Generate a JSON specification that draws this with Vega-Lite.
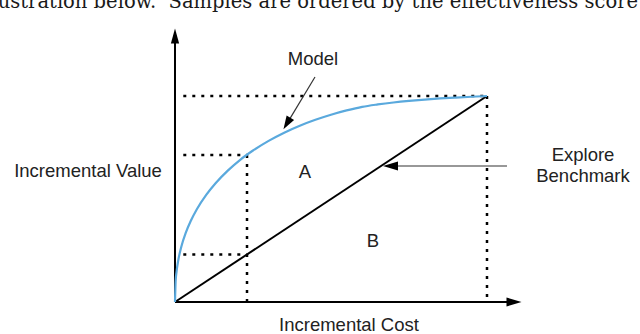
{
  "$schema": "https://vega.github.io/schema/vega-lite/v6.json",
  "width": 640,
  "height": 334,
  "padding": 0,
  "autosize": {"type": "none"},
  "background": "white",
  "config": {"view": {"stroke": null}},
  "datasets": {
    "model": [
      {"x": 0, "y": 0}, {"x": 0.2, "y": 9.98}, {"x": 0.5, "y": 14.77}, {"x": 1, "y": 19.87},
      {"x": 2, "y": 26.67}, {"x": 3.5, "y": 33.76}, {"x": 5, "y": 39.17}, {"x": 7, "y": 45.0},
      {"x": 10, "y": 51.97}, {"x": 13, "y": 57.64}, {"x": 17, "y": 63.89}, {"x": 21, "y": 69.16},
      {"x": 25, "y": 73.53}, {"x": 30, "y": 78.23}, {"x": 35, "y": 82.21}, {"x": 40, "y": 85.59},
      {"x": 45, "y": 88.47}, {"x": 50, "y": 90.92}, {"x": 55, "y": 93.0}, {"x": 60, "y": 94.74},
      {"x": 65, "y": 95.9}, {"x": 70, "y": 96.85}, {"x": 75, "y": 97.62}, {"x": 80, "y": 98.26},
      {"x": 85, "y": 98.81}, {"x": 90, "y": 99.25}, {"x": 95, "y": 99.64}, {"x": 100, "y": 100}
    ],
    "benchmark": [{"x": 0, "y": 0}, {"x": 100, "y": 100}],
    "guides": [
      {"x": 2.66, "y": 100, "x2": 100, "y2": 100},
      {"x": 2.66, "y": 71.36, "x2": 23.08, "y2": 71.36},
      {"x": 2.66, "y": 23.08, "x2": 23.08, "y2": 23.08},
      {"x": 23.08, "y": 71.36, "x2": 23.08, "y2": -2.3},
      {"x": 100, "y": 100, "x2": 100, "y2": 0}
    ],
    "axes": [
      {"x": 0, "y": 0, "x2": 0, "y2": 129.13},
      {"x": 0, "y": 0, "x2": 108.65, "y2": 0}
    ],
    "pointers": [
      {"x": 44.87, "y": 109.22, "x2": 35.87, "y2": 86.6},
      {"x": 106.41, "y": 66.02, "x2": 69.07, "y2": 66.02}
    ],
    "labels": [
      {"x": 44.23, "y": 117.96, "label": "Model"},
      {"x": 130.77, "y": 71.36, "label": "Explore"},
      {"x": 130.77, "y": 61.17, "label": "Benchmark"},
      {"x": 41.67, "y": 63.11, "label": "A"},
      {"x": 63.46, "y": 29.61, "label": "B"},
      {"x": -27.88, "y": 63.59, "label": "Incremental Value"},
      {"x": 55.77, "y": -11.17, "label": "Incremental Cost"}
    ],
    "caption": [{"x": 148.4, "y": 142.48, "label": "illustration below.\u00a0\u00a0Samples are ordered by the effectiveness score"}]
  },
  "encoding": {
    "x": {"field": "x", "type": "quantitative", "scale": {"domain": [-56.09, 149.04], "nice": false, "zero": false}, "axis": null},
    "y": {"field": "y", "type": "quantitative", "scale": {"domain": [-15.53, 146.6], "nice": false, "zero": false}, "axis": null}
  },
  "layer": [
    {"data": {"name": "caption"}, "mark": {"type": "text", "align": "right", "baseline": "alphabetic", "font": "DejaVu Serif", "fontSize": 19.5, "color": "#1a1a1a"}, "encoding": {"text": {"field": "label"}}},
    {"data": {"name": "guides"}, "mark": {"type": "rule", "color": "black", "strokeWidth": 2.5, "strokeDash": [3, 6]}, "encoding": {"x2": {"field": "x2"}, "y2": {"field": "y2"}}},
    {"data": {"name": "axes"}, "mark": {"type": "rule", "color": "black", "strokeWidth": 2}, "encoding": {"x2": {"field": "x2"}, "y2": {"field": "y2"}}},
    {"data": {"name": "pointers"}, "mark": {"type": "rule", "color": "#333", "strokeWidth": 1.2}, "encoding": {"x2": {"field": "x2"}, "y2": {"field": "y2"}}},
    {"data": {"name": "benchmark"}, "mark": {"type": "line", "color": "black", "strokeWidth": 2}, "encoding": {}},
    {"data": {"name": "model"}, "mark": {"type": "line", "color": "#5aa9dd", "strokeWidth": 2.2, "interpolate": "monotone"}, "encoding": {}},
    {"data": {"values": [{"x": 0, "y": 129.13}]}, "mark": {"type": "point", "shape": "M0,-1L0.55,1L-0.55,1Z", "size": 225, "filled": true, "color": "black", "opacity": 1, "angle": 0}, "encoding": {}},
    {"data": {"values": [{"x": 108.65, "y": 0}]}, "mark": {"type": "point", "shape": "M0,-1L0.6,1L-0.6,1Z", "size": 225, "filled": true, "color": "black", "opacity": 1, "angle": 90}, "encoding": {}},
    {"data": {"values": [{"x": 35.87, "y": 86.6}]}, "mark": {"type": "point", "shape": "M0,-1L0.65,1L-0.65,1Z", "size": 180, "filled": true, "color": "black", "opacity": 1, "angle": 211}, "encoding": {}},
    {"data": {"values": [{"x": 69.07, "y": 66.02}]}, "mark": {"type": "point", "shape": "M0,-1L0.6,1L-0.6,1Z", "size": 225, "filled": true, "color": "black", "opacity": 1, "angle": 270}, "encoding": {}},
    {"data": {"name": "labels"}, "mark": {"type": "text", "align": "center", "baseline": "middle", "font": "Liberation Sans", "fontSize": 18.5, "color": "#222"}, "encoding": {"text": {"field": "label"}}}
  ]
}
